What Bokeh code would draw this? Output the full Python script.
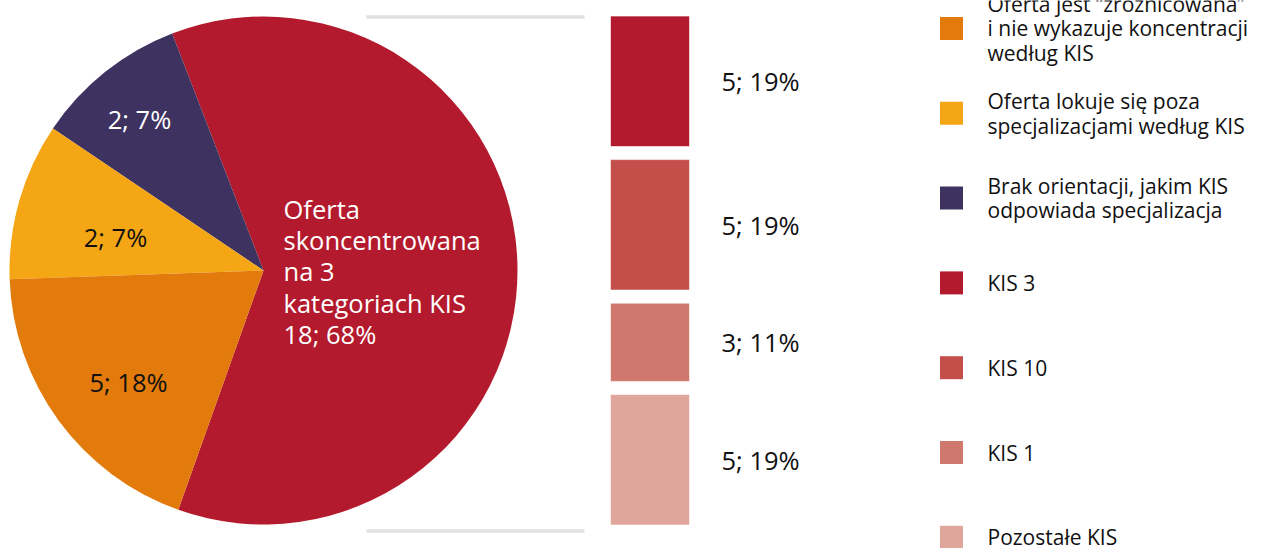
import math
from bokeh.plotting import figure
from bokeh.models import Range1d
from bokeh.embed import file_html
from bokeh.resources import INLINE
from bokeh.core.properties import value

# ---------------- data ----------------
# pie slices, anticlockwise starting from the red slice
pie_names = [
    "Oferta skoncentrowana na 3 kategoriach KIS",
    "Brak orientacji, jakim KIS odpowiada specjalizacja",
    "Oferta lokuje się poza specjalizacjami według KIS",
    "Oferta jest „zróżnicowana” i nie wykazuje koncentracji według KIS",
]
pie_counts = [18, 2, 2, 5]
pie_pcts = [68, 7, 7, 18]
# angular share of each slice as drawn in the picture (%)
pie_shares = [61.3, 9.7, 10.0, 19.0]
pie_colors = ["#B41A2D", "#3D3260", "#F5A615", "#E27B0B"]
pie_text_colors = ["white", "white", "#111111", "#111111"]

# bar (breakdown of the red slice), top to bottom
bar_names = ["KIS 3", "KIS 10", "KIS 1", "Pozostałe KIS"]
bar_counts = [5, 5, 3, 5]
bar_pcts = [19, 19, 11, 19]
bar_colors = ["#B41A2D", "#C44F4A", "#CF786E", "#E0A69B"]

legend_labels = [
    "Oferta jest “zróżnicowana”\ni nie wykazuje koncentracji\nwedług KIS",
    "Oferta lokuje się poza\nspecjalizacjami według KIS",
    "Brak orientacji, jakim KIS\nodpowiada specjalizacja",
    "KIS 3",
    "KIS 10",
    "KIS 1",
    "Pozostałe KIS",
]
legend_colors = ["#E27B0B", "#F5A615", "#3D3260"] + bar_colors

# ---------------- layout ----------------
W, H = 1271, 548
FONT = "Open Sans"
LABEL_FS = 25.5
LEGEND_FS = 21

p = figure(width=W, height=H, output_backend="svg", toolbar_location=None,
           x_range=Range1d(0, W), y_range=Range1d(0, H), min_border=0)
p.axis.visible = False
p.grid.visible = False
p.outline_line_color = None
p.background_fill_color = "white"
p.border_fill_color = "white"

def sy(v):
    return H - v

# --- pie ---
cx, cy, R = 263, 270, 254
start_deg = -109.6
starts, ends = [], []
acc = start_deg
for s in pie_shares:
    starts.append(math.radians(acc))
    acc += s / 100 * 360
    ends.append(math.radians(acc))
p.wedge(x=[cx] * 4, y=[sy(cy)] * 4, radius=R, radius_units="screen",
        start_angle=starts, end_angle=ends, fill_color=pie_colors,
        line_color=None)

# pie labels
pie_label_text = [
    "Oferta\nskoncentrowana\nna 3\nkategoriach KIS\n%d; %d%%" % (pie_counts[0], pie_pcts[0]),
] + ["%d; %d%%" % (c, q) for c, q in zip(pie_counts[1:], pie_pcts[1:])]
lab_x = [283, 139, 115, 128]
lab_y = [271, 118, 236, 381]
lab_align = ["left", "center", "center", "center"]
p.text(x=lab_x, y=[sy(v) for v in lab_y], text=pie_label_text,
       text_color=pie_text_colors, text_align=lab_align, text_baseline="middle",
       text_font=value(FONT), text_font_size="%spx" % LABEL_FS, text_line_height=0.913)

# --- bar (own scale in count units) ---
gap = 0.5
unit_px = 26.1
bar_bottom_px = 524.5
lo = -(H - bar_bottom_px) / unit_px
p.extra_y_ranges = {"bar": Range1d(lo, lo + H / unit_px)}
bottoms, tops = [], []
acc = 0.0
for c in reversed(bar_counts):
    bottoms.append(acc)
    tops.append(acc + c)
    acc += c + gap
bottoms = bottoms[::-1]
tops = tops[::-1]
p.vbar(x=[649.5] * 4, width=79, bottom=bottoms, top=tops, fill_color=bar_colors,
       line_color="white", line_alpha=0.6, line_width=1, y_range_name="bar")
p.text(x=[721] * 4, y=[(b + t) / 2 for b, t in zip(bottoms, tops)],
       text=["%d; %d%%" % (c, q) for c, q in zip(bar_counts, bar_pcts)],
       text_color="#111111", text_align="left", text_baseline="middle",
       text_font=value(FONT), text_font_size="%spx" % LABEL_FS, y_range_name="bar")

# connector lines
p.segment(x0=[366, 366], y0=[sy(16.5), sy(530.5)], x1=[584, 584], y1=[sy(16.5), sy(530.5)],
          line_color="#E1E1E1", line_width=3.5)

# --- legend ---
leg_y = [28 + i * 84.8 for i in range(len(legend_labels))]
p.rect(x=[951] * 7, y=[sy(v) for v in leg_y], width=23, height=23,
       width_units="screen", height_units="screen",
       fill_color=legend_colors, line_color=None)
p.text(x=[987] * 7, y=[sy(v) for v in leg_y], text=legend_labels,
       text_color="#111111", text_align="left", text_baseline="middle",
       text_font=value(FONT), text_font_size="%spx" % LEGEND_FS, text_line_height=0.874)

open("out.html", "w").write(file_html(p, INLINE))
